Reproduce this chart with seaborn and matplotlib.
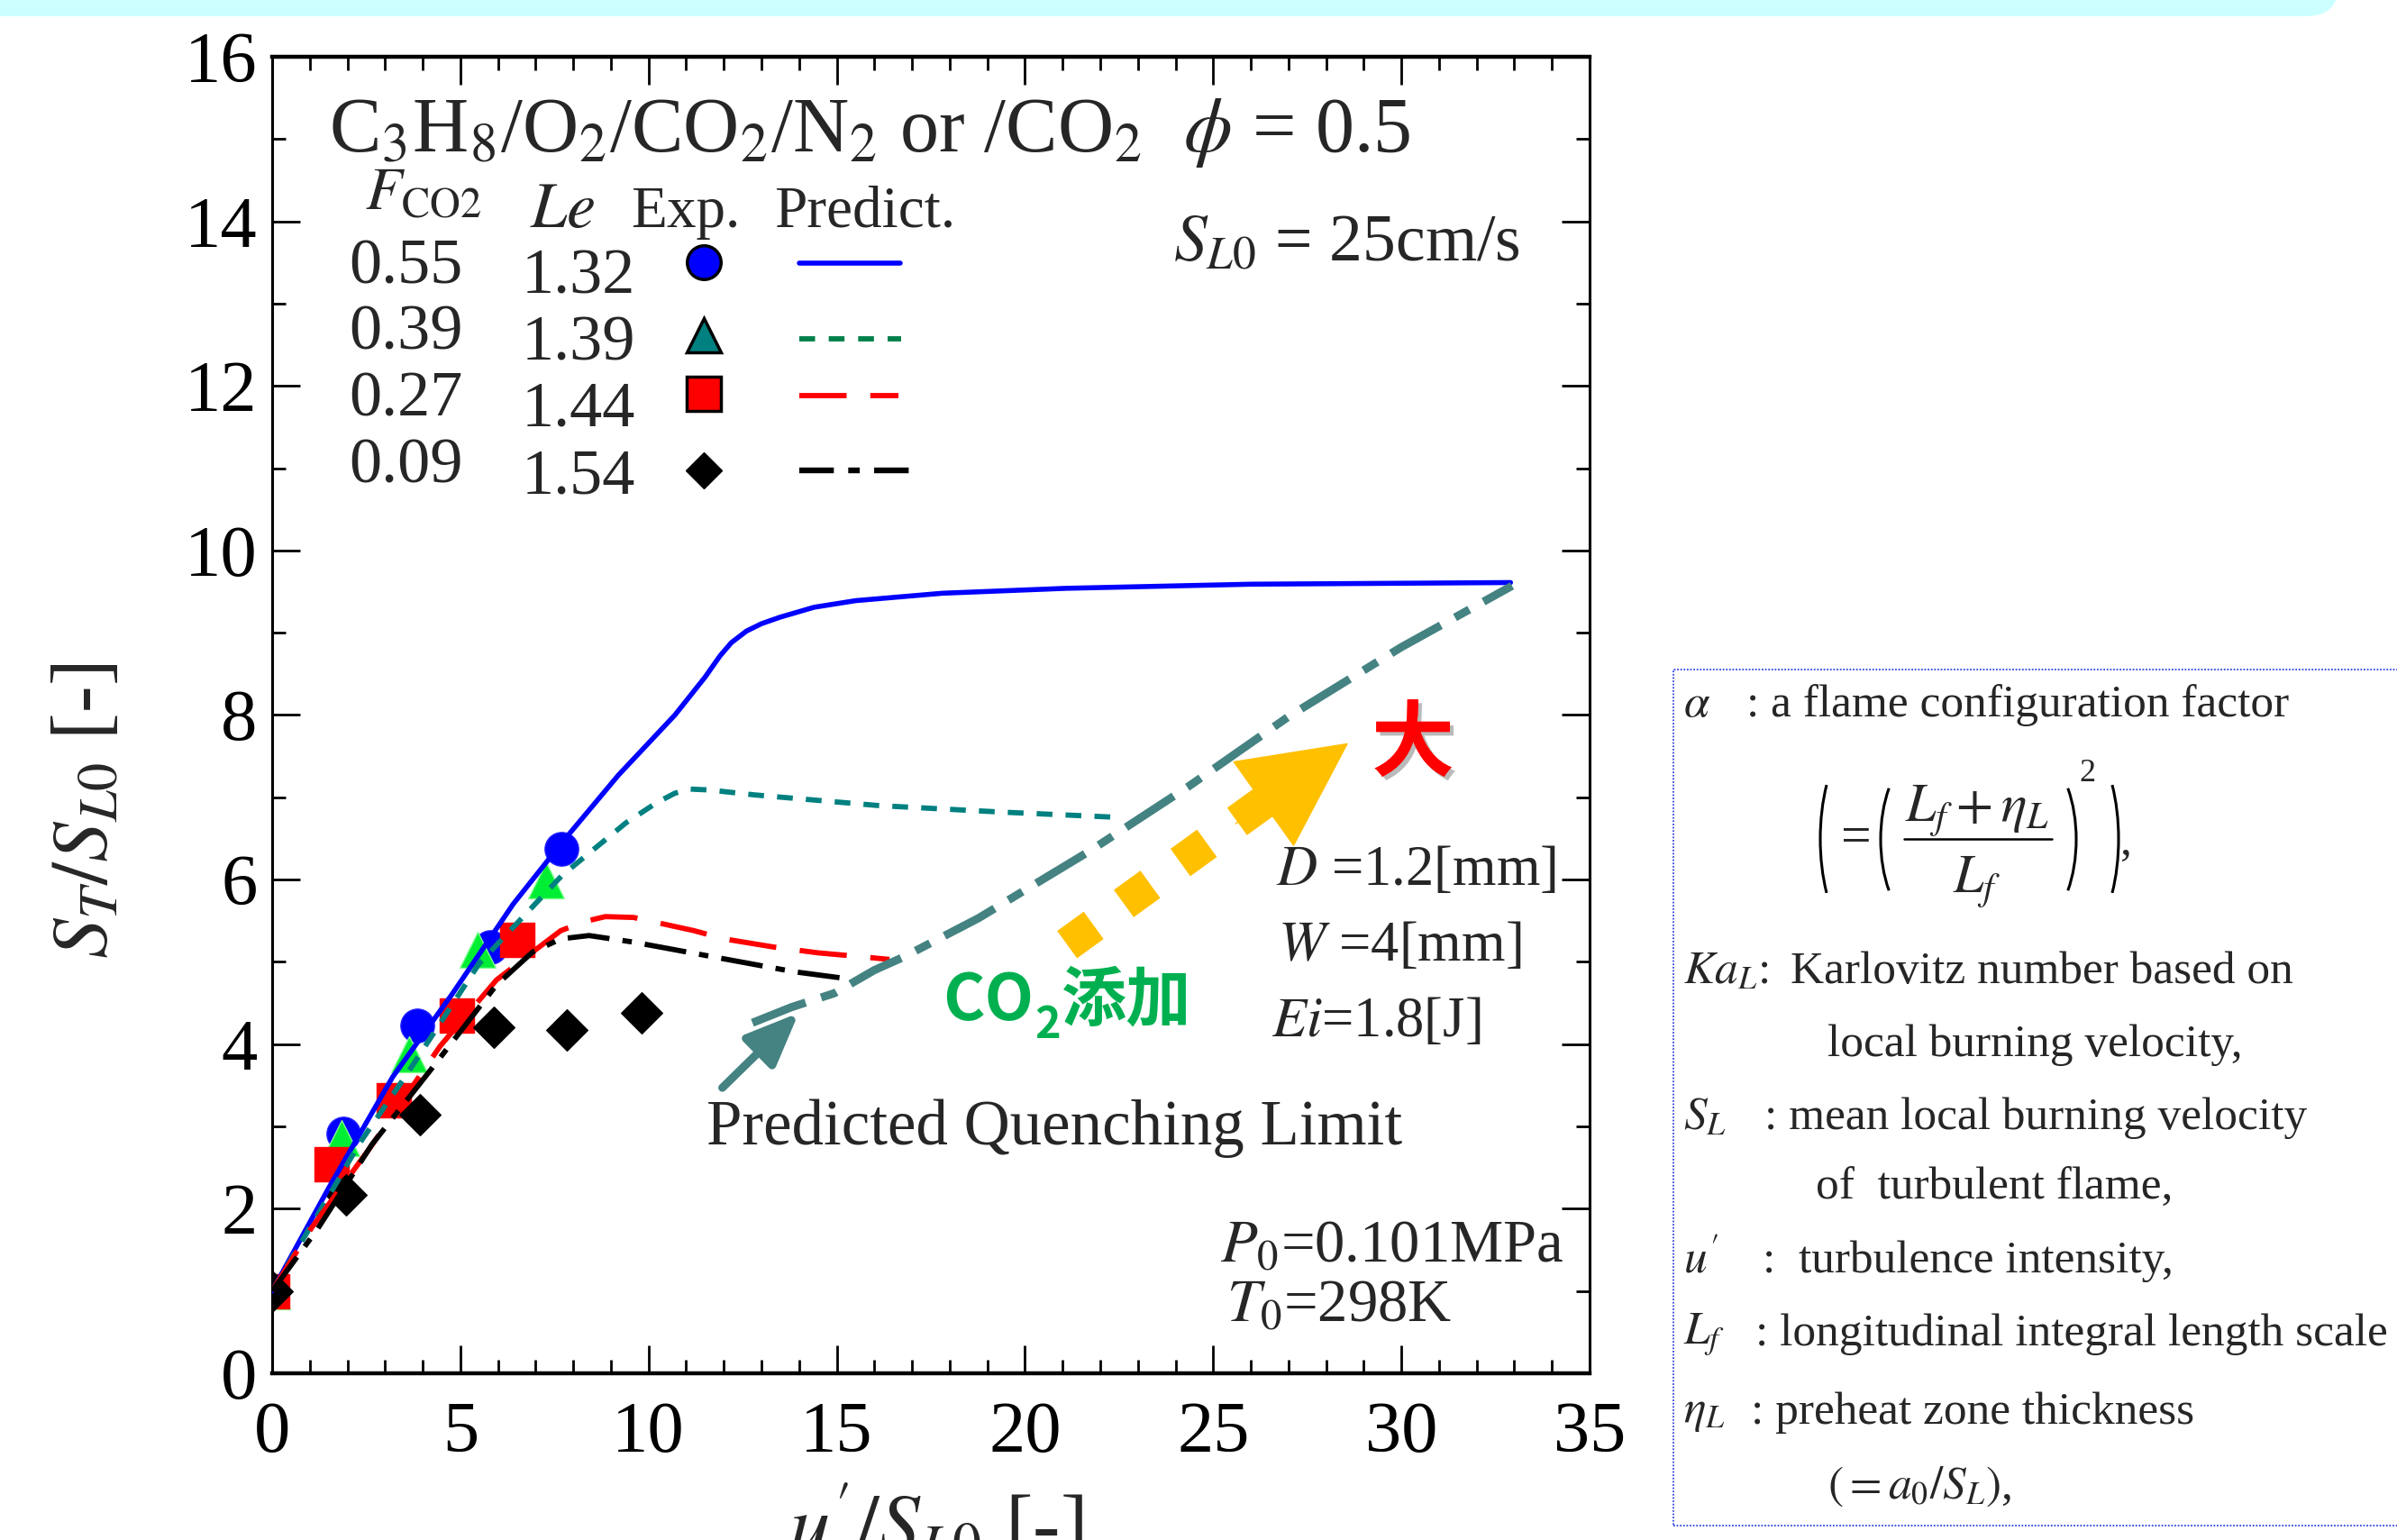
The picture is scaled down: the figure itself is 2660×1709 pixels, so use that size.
import matplotlib
matplotlib.use('Agg')
import matplotlib.pyplot as plt
import seaborn as sns
from matplotlib.lines import Line2D
from matplotlib import patches, patheffects
from matplotlib.ticker import MultipleLocator
from matplotlib.transforms import IdentityTransform

# ---------------- data ----------------
blue_line_x = [0, 1.5, 3.2, 4.8, 6.4, 7.7, 9.2, 10.7, 11.5, 11.9, 12.2, 12.6, 13.0, 13.5, 14.4, 15.5, 17.8, 21.1, 26.0, 32.9]
blue_line_y = [1.0, 2.25, 3.6, 4.62, 5.7, 6.45, 7.27, 8.0, 8.46, 8.72, 8.88, 9.02, 9.11, 9.19, 9.31, 9.39, 9.48, 9.54, 9.59, 9.61]

teal_line_x = [0, 1.5, 2.3, 3.6, 5.5, 7.7, 9.4, 10.2, 10.7, 11.1, 11.6, 12.8, 16.1, 19.4, 22.3]
teal_line_y = [1.0, 2.15, 2.78, 3.65, 4.98, 6.05, 6.69, 6.93, 7.05, 7.10, 7.09, 7.03, 6.90, 6.82, 6.76]

red_line_x = [0, 1.05, 2.6, 4.47, 5.96, 6.92, 7.67, 8.3, 8.85, 9.6, 11.2, 12.0, 13.33, 14.5, 15.47, 16.4]
red_line_y = [1.0, 1.77, 2.74, 3.98, 4.78, 5.12, 5.38, 5.49, 5.55, 5.54, 5.38, 5.28, 5.18, 5.11, 5.07, 5.03]

black_line_x = [0, 1.2, 2.65, 4.25, 5.96, 6.92, 7.67, 8.42, 9.6, 11.73, 13.87, 15.2]
black_line_y = [1.0, 1.75, 2.78, 3.71, 4.72, 5.12, 5.28, 5.32, 5.24, 5.06, 4.88, 4.80]

quench_x = [12.76, 13.8, 14.94, 16.0, 16.78, 18.76, 21.73, 24.37, 27.0, 29.98, 32.94]
quench_y = [4.26, 4.45, 4.62, 4.90, 5.06, 5.53, 6.35, 7.14, 7.98, 8.82, 9.57]

circle_x = [0, 1.9, 3.85, 5.8, 7.69]
circle_y = [1.0, 2.91, 4.23, 5.18, 6.37]
triangle_x = [0, 1.85, 3.63, 5.45, 7.27]
triangle_y = [1.0, 2.86, 3.88, 5.15, 5.99]
square_x = [0, 1.58, 3.24, 4.9, 6.52]
square_y = [1.0, 2.54, 3.32, 4.35, 5.27]
diamond_x = [0, 1.96, 3.93, 5.88, 7.83, 9.81]
diamond_y = [1.0, 2.17, 3.14, 4.21, 4.17, 4.38]

f_co2 = ['0.55', '0.39', '0.27', '0.09']
le_vals = ['1.32', '1.39', '1.44', '1.54']
x_ticks = [0, 5, 10, 15, 20, 25, 30, 35]
y_ticks = [0, 2, 4, 6, 8, 10, 12, 14, 16]

# ---------------- style ----------------
sns.set_style('ticks')
plt.rcParams.update({
    'font.family': ['Liberation Serif', 'DejaVu Serif'],
    'mathtext.fontset': 'stix',
    'axes.unicode_minus': False,
})

W, H = 2660, 1709
def fx(px):
    return px / W
def fy(py):
    return 1 - py / H

fig = plt.figure(figsize=(26.6, 17.09), dpi=100)
fig.patch.set_facecolor('white')
ax = fig.add_axes([0.11353, 0.10825, 0.54963, 0.85489])
ax.set_xlim(0, 35)
ax.set_ylim(0, 16)

# markers
sns.scatterplot(x=circle_x, y=circle_y, marker='o', s=720, color='#0000FF', edgecolor='#2020FF', linewidth=1, ax=ax, zorder=3, legend=False)
sns.scatterplot(x=triangle_x, y=triangle_y, marker='^', s=820, color='#00EE33', edgecolor='#80FF90', linewidth=1, ax=ax, zorder=3, legend=False)
sns.scatterplot(x=square_x, y=square_y, marker='s', s=720, color='#FF0000', edgecolor='#FF0000', linewidth=1, ax=ax, zorder=3, legend=False)
sns.scatterplot(x=diamond_x, y=diamond_y, marker='D', s=540, color='#000000', edgecolor='#000000', linewidth=1, ax=ax, zorder=3.5, legend=False)

# lines
sns.lineplot(x=blue_line_x, y=blue_line_y, sort=False, estimator=None, color='#0000FF', lw=4.0, ax=ax, zorder=4)
sns.lineplot(x=teal_line_x, y=teal_line_y, sort=False, estimator=None, color='#008080', lw=4.2, linestyle=(0, (3, 2.5)), ax=ax, zorder=4)
sns.lineplot(x=red_line_x, y=red_line_y, sort=False, estimator=None, color='#FF0000', lw=4.2, linestyle=(0, (9, 4.5)), ax=ax, zorder=4)
sns.lineplot(x=black_line_x, y=black_line_y, sort=False, estimator=None, color='#000000', lw=4.2, linestyle=(0, (8, 2.5, 1.8, 2.5)), ax=ax, zorder=4)
sns.lineplot(x=quench_x, y=quench_y, sort=False, estimator=None, color='#458282', lw=6.5, linestyle=(0, (7, 2, 2, 2)), ax=ax, zorder=5)

# yellow dashed arrow (annotation)
ax.plot([21.12, 26.34], [5.21, 6.94], color='#FFC000', lw=27, linestyle=(0, (0.97, 1.1)),
        dash_capstyle='butt', solid_capstyle='butt', zorder=6)
ax.annotate('', xy=(28.59, 7.66), xytext=(25.6, 6.68),
            arrowprops=dict(arrowstyle='-|>,head_length=8.2,head_width=4.1', mutation_scale=10,
                            facecolor='#FFC000', edgecolor='#FFC000', lw=1, shrinkA=0, shrinkB=0),
            zorder=6)
# teal arrow
ax.annotate('', xy=(13.99, 4.38), xytext=(11.96, 3.47),
            arrowprops=dict(arrowstyle='-|>,head_length=3.6,head_width=1.5', mutation_scale=10,
                            color='#458282', lw=6.5, shrinkA=0, shrinkB=0),
            zorder=6)

# axes styling
ax.set_xticks(x_ticks)
ax.set_yticks(y_ticks)
ax.set_xticklabels([str(v) for v in x_ticks])
ax.set_yticklabels([str(v) for v in y_ticks])
ax.xaxis.set_minor_locator(MultipleLocator(1))
ax.yaxis.set_minor_locator(MultipleLocator(1))
ax.tick_params(which='both', direction='in', top=True, right=True, colors='black')
ax.tick_params(which='major', length=22, width=2.0, labelsize=58)
ax.tick_params(which='minor', length=11, width=2.0)
ax.tick_params(axis='x', which='major', pad=22)
ax.tick_params(axis='y', which='major', pad=12)
for s in ['left', 'right']:
    ax.spines[s].set_linewidth(2.2)
    ax.spines[s].set_color('black')
for s in ['top', 'bottom']:
    ax.spines[s].set_linewidth(3.2)
    ax.spines[s].set_color('black')

ax.set_xlabel(r"$u'/S_{L0}$ [-]", fontsize=66, va='top')
ax.xaxis.set_label_coords(0.504, -0.083)
ax.set_ylabel(r"$S_T/S_{L0}$ [-]", fontsize=64, va='center')
ax.yaxis.set_label_coords(-0.140, 0.427)

# ---------------- texts inside the plot ----------------
def T(px, py, s, size, ha='left', va='baseline', **kw):
    return fig.text(fx(px), fy(py), s, fontsize=size, ha=ha, va=va, **kw)

T(365, 168, r'C$_3$H$_8$/O$_2$/CO$_2$/N$_2$ or /CO$_2$  $\phi$ = 0.5', 62)
T(405, 232, r'$F_{\mathrm{CO2}}$', 48)
T(588, 252, r'$Le$', 52)
T(700, 252, 'Exp.', 47)
T(859, 252, 'Predict.', 47)
row_f_base = [315, 388, 462, 535]
row_le_base = [325, 400, 473, 547]
for fv, lv, yb1, yb2 in zip(f_co2, le_vals, row_f_base, row_le_base):
    T(387, yb1, fv, 52)
    T(579, yb2, lv, 52)

# legend swatches
leg_marker_y = [291, 372, 437, 522]
leg_line_y = [292, 376, 439, 522]
fig.add_artist(Line2D([fx(781)], [fy(leg_marker_y[0])], transform=fig.transFigure, marker='o', ms=27,
                      mfc='#0000FF', mec='black', mew=2.5, ls='none'))
fig.add_artist(Line2D([fx(781)], [fy(leg_marker_y[1])], transform=fig.transFigure, marker='^', ms=27,
                      mfc='#008080', mec='black', mew=2.5, ls='none'))
fig.add_artist(Line2D([fx(781)], [fy(leg_marker_y[2])], transform=fig.transFigure, marker='s', ms=27,
                      mfc='#FF0000', mec='black', mew=2.5, ls='none'))
fig.add_artist(Line2D([fx(781)], [fy(leg_marker_y[3])], transform=fig.transFigure, marker='D', ms=20,
                      mfc='black', mec='black', mew=1, ls='none'))
fig.add_artist(Line2D([fx(887), fx(999)], [fy(leg_line_y[0])] * 2, transform=fig.transFigure,
                      color='#0000FF', lw=4.0))
fig.add_artist(Line2D([fx(887), fx(1000)], [fy(leg_line_y[1])] * 2, transform=fig.transFigure,
                      color='#00804A', lw=4.2, ls=(0, (3, 2.6))))
fig.add_artist(Line2D([fx(887), fx(997)], [fy(leg_line_y[2])] * 2, transform=fig.transFigure,
                      color='#FF0000', lw=4.2, ls=(0, (9, 4.5))))
fig.add_artist(Line2D([fx(887), fx(1015)], [fy(leg_line_y[3])] * 2, transform=fig.transFigure,
                      color='black', lw=4.6, ls=(0, (6, 2.5, 2, 2.5))))

T(1302, 290, r'$S_{L0}$ = 25cm/s', 53)
T(1416, 982, r'$D$ =1.2[mm]', 45)
T(1418, 1066, r'$W$ =4[mm]', 45)
T(1411, 1150, r'$Ei$=1.8[J]', 45)
T(1354, 1400, r'$P_0$=0.101MPa', 48)
T(1361, 1467, r'$T_0$=298K', 48)
T(784, 1270, 'Predicted Quenching Limit', 51)

cjk = ['Noto Sans CJK JP', 'DejaVu Sans']
T(1568, 827, '大', 66, ha='center', va='center', color='#FF0000', fontweight='bold', family=cjk,
  path_effects=[patheffects.withSimplePatchShadow(offset=(3, -3), shadow_rgbFace='#777777', alpha=0.5),
                patheffects.Normal()])
T(1046, 1132, 'CO', 51, color='#00B050', fontweight='bold', family=cjk)
T(1148, 1152, '2', 35, color='#00B050', fontweight='bold', family=cjk)
T(1178, 1132, '添加', 52, color='#00B050', fontweight='bold', family=cjk)

# ---------------- right definition box ----------------
fig.add_artist(patches.Rectangle((1857, H - 1693), 900, 950, transform=IdentityTransform(), fill=False,
                                 edgecolor='#3344DD', lw=1.3, linestyle=(0, (1, 1))))
bs = 37
fs = 43
T(1868, 783, r'$\alpha$', bs, va='center')
T(1938, 783, ': a flame configuration factor', bs, va='center')

# formula  ( = ( (L_f + eta_L) / L_f )^2 ),
T(2043, 945, '=', fs)
T(2194, 912, r'$L_f + \eta_L$', fs, ha='center')
fig.add_artist(Line2D([fx(2113), fx(2277)], [fy(931), fy(931)], transform=fig.transFigure, color='black', lw=1.8))
T(2194, 991, r'$L_f$', fs, ha='center')
T(2307, 867, '2', 26)
T(2353, 948, ',', bs)
def paren(px_edge, py_top, py_bot, left=True):
    h = py_bot - py_top
    b = h / 1.638
    a = 49
    yc = H - (py_top + py_bot) / 2
    if left:
        xc = px_edge + a
        arc = patches.Arc((xc, yc), 2 * a, 2 * b, theta1=125, theta2=235, transform=IdentityTransform(),
                          color='black', lw=2.2)
    else:
        xc = px_edge - a
        arc = patches.Arc((xc, yc), 2 * a, 2 * b, theta1=-55, theta2=55, transform=IdentityTransform(),
                          color='black', lw=2.2)
    fig.add_artist(arc)
paren(2020, 836, 1026, True)
paren(2351, 836, 1026, False)
paren(2087, 852, 1011, True)
paren(2304, 852, 1011, False)

T(1868, 1079, r'$Ka_L$:', bs, va='center')
T(1987, 1079, 'Karlovitz number based on', bs, va='center')
T(2028, 1160, 'local burning velocity,', bs, va='center')
T(1868, 1241, r'$S_L$', bs, va='center')
T(1958, 1241, ': mean local burning velocity', bs, va='center')
T(2015, 1319, 'of  turbulent flame,', bs, va='center')
T(1868, 1400, r"$u'$", bs, va='center')
T(1956, 1400, ':  turbulence intensity,', bs, va='center')
T(1868, 1481, r'$L_f$', bs, va='center')
T(1948, 1481, ': longitudinal integral length scale', bs, va='center')
T(1868, 1568, r'$\eta_L$', bs, va='center')
T(1943, 1568, ': preheat zone thickness', bs, va='center')
T(2028, 1650, r'$(= a_0/S_L)$,', bs, va='center')

# ---------------- top banner ----------------
fig.add_artist(patches.FancyBboxPatch((-60, H - 18), 2595 + 60, 120, transform=IdentityTransform(),
                                      boxstyle='round,pad=0,rounding_size=35', facecolor='#CCFFFF',
                                      edgecolor='none'))

fig.savefig('out.png', dpi=100)
